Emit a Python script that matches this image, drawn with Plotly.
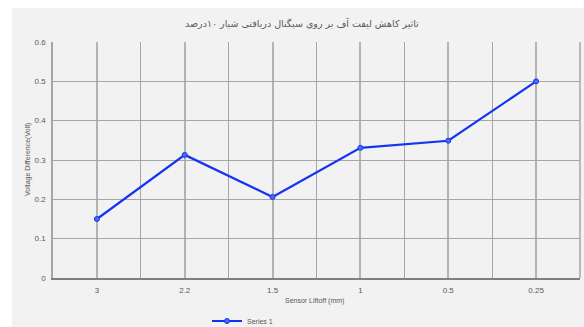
import plotly.graph_objects as go

categories = ["3", "2.2", "1.5", "1", "0.5", "0.25"]
values = [0.15, 0.313, 0.206, 0.331, 0.349, 0.5]
series_name = "Series 1"
title_text = "تاثیر کاهش لیفت آف بر روی سیگنال دریافتی شیار ۱۰درصد"
x_title = "Sensor Liftoff (mm)"
y_title = "Voltage Difference(Volt)"

W, H = 584, 327
L, R, T, B = 53, 4, 42, 49
pw, ph = W - L - R, H - T - B

def px_x(p):
    return (p - L) / pw

def px_y(p):
    return (H - B - p) / ph

txt = "#595959"
grid = "#a6a6a6"
font = "Liberation Sans"

fig = go.Figure()
fig.add_trace(go.Scatter(
    x=list(range(len(categories))), y=values, name=series_name,
    mode="lines+markers",
    line=dict(color="#1434f5", width=2.2),
    marker=dict(size=5, color="#4a6cf0", line=dict(color="#1434f5", width=1)),
))

fig.update_layout(
    width=W, height=H,
    margin=dict(l=L, r=R, t=T, b=B, autoexpand=False),
    paper_bgcolor="#f2f2f2", plot_bgcolor="#f2f2f2",
    showlegend=True,
    legend=dict(orientation="h", x=px_x(207), xanchor="left", y=px_y(321), yanchor="middle",
                font=dict(family=font, size=7, color=txt), bgcolor="rgba(0,0,0,0)",
                itemwidth=30),
    annotations=[
        dict(text=title_text, x=px_x(302), y=px_y(23), xref="paper", yref="paper",
             xanchor="center", yanchor="middle",
             showarrow=False, font=dict(family="DejaVu Sans", size=9.5, color=txt)),
        dict(text=x_title, x=px_x(314), y=px_y(301), xref="paper", yref="paper",
             xanchor="center", yanchor="middle",
             showarrow=False, font=dict(family=font, size=7, color=txt)),
        dict(text=y_title, x=px_x(28), y=px_y(160), xref="paper", yref="paper",
             xanchor="center", yanchor="middle",
             showarrow=False, textangle=-90, font=dict(family=font, size=7, color=txt)),
    ],
    shapes=[
        dict(type="rect", xref="paper", yref="paper", x0=px_x(0), x1=px_x(12), y0=px_y(H), y1=px_y(0),
             fillcolor="white", line=dict(width=0), layer="below"),
        dict(type="rect", xref="paper", yref="paper", x0=px_x(0), x1=px_x(W), y0=px_y(8), y1=px_y(0),
             fillcolor="white", line=dict(width=0), layer="below"),
    ],
)

fig.update_xaxes(
    range=[-0.5, len(categories) - 0.5],
    tickmode="array", tickvals=list(range(len(categories))), ticktext=categories,
    showgrid=True, gridcolor="#b3b3b3", gridwidth=1.5,
    minor=dict(tickmode="array", tickvals=[i + 0.5 for i in range(-1, len(categories))],
               showgrid=True, gridcolor=grid, gridwidth=1),
    showline=True, linecolor="#7f7f7f", linewidth=1.5, mirror=False,
    tickfont=dict(family=font, size=8, color=txt), ticks="", zeroline=False,
    ticklabelstandoff=4,
)
fig.update_yaxes(
    range=[0, 0.6], tickvals=[0, 0.1, 0.2, 0.3, 0.4, 0.5, 0.6],
    ticktext=["0", "0.1", "0.2", "0.3", "0.4", "0.5", "0.6"],
    showgrid=True, gridcolor=grid, gridwidth=1,
    showline=True, linecolor="#a6a6a6", linewidth=1.5,
    tickfont=dict(family=font, size=8, color=txt), ticks="", zeroline=False,
    ticklabelstandoff=4,
)
fig.add_shape(type="line", xref="paper", yref="paper", x0=1, x1=1, y0=0, y1=1,
              line=dict(color="#a6a6a6", width=1.5))

fig.write_html("out.html")
